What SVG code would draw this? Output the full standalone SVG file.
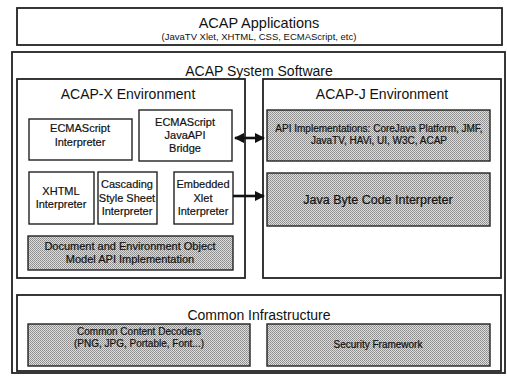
<svg xmlns="http://www.w3.org/2000/svg" width="507" height="376" viewBox="0 0 507 376">
<defs>
<pattern id="dither" width="2" height="2" patternUnits="userSpaceOnUse">
<rect width="2" height="2" fill="#dcdcdc"/>
<rect x="0" y="0" width="1" height="1" fill="#8c8c8c"/>
<rect x="1" y="1" width="1" height="1" fill="#9a9a9a"/>
</pattern>
<marker id="ah" viewBox="0 0 10 10" refX="9" refY="5" markerWidth="4" markerHeight="4" orient="auto-start-reverse" markerUnits="strokeWidth">
<path d="M0,0 L10,5 L0,10 z" fill="#111"/>
</marker>
<style>
text{font-family:"Liberation Sans",Arial,sans-serif;fill:#111;text-anchor:middle}
.frame{fill:#fff;stroke:#222;stroke-width:1.8}
.box{fill:#fff;stroke:#222;stroke-width:1.4}
.shade{fill:url(#dither);stroke:#222;stroke-width:1.4}
.t15{font-size:14.5px}
.t14{font-size:14px}
.t11{font-size:11px;stroke:#111;stroke-width:0.2}
.t10{font-size:10px;stroke:#111;stroke-width:0.2}
.t9{font-size:9.5px}
.conn{stroke:#111;stroke-width:2.6;fill:none}
</style>
</defs>
<rect width="507" height="376" fill="#fff"/>

<g id="acap-applications">
<rect class="frame" x="17" y="8" width="485" height="37"/>
<text class="t15" x="259" y="28">ACAP Applications</text>
<text class="t9" x="259" y="40">(JavaTV Xlet, XHTML, CSS, ECMAScript, etc)</text>
</g>

<g id="acap-system-software">
<rect class="frame" x="12" y="52" width="493" height="321"/>
<text class="t14" x="259" y="76">ACAP System Software</text>
</g>

<g id="acap-x-environment">
<rect class="frame" x="17" y="79" width="228" height="199"/>
<text class="t14" x="128" y="99">ACAP-X Environment</text>
</g>

<g id="acap-j-environment">
<rect class="frame" x="263" y="79" width="238" height="199"/>
<text class="t14" x="382" y="99">ACAP-J Environment</text>
</g>

<g id="ecmascript-interpreter">
<rect class="box" x="29" y="119" width="103" height="41"/>
<text class="t11" x="80" y="132">ECMAScript</text>
<text class="t11" x="80" y="146">Interpreter</text>
</g>

<g id="ecmascript-javaapi-bridge">
<rect class="box" x="139" y="110" width="93" height="51"/>
<text class="t11" x="185" y="126">ECMAScript</text>
<text class="t11" x="185" y="139">JavaAPI</text>
<text class="t11" x="185" y="152">Bridge</text>
</g>

<g id="xhtml-interpreter">
<rect class="box" x="29" y="172" width="65" height="52"/>
<text class="t11" x="61" y="195">XHTML</text>
<text class="t11" x="61" y="208">Interpreter</text>
</g>

<g id="css-interpreter">
<rect class="box" x="98" y="172" width="59" height="52"/>
<text class="t11" x="127" y="188">Cascading</text>
<text class="t11" x="127" y="202">Style Sheet</text>
<text class="t11" x="127" y="215">Interpreter</text>
</g>

<g id="embedded-xlet-interpreter">
<rect class="box" x="174" y="172" width="59" height="52"/>
<text class="t11" x="203" y="188">Embedded</text>
<text class="t11" x="203" y="202">Xlet</text>
<text class="t11" x="203" y="215">Interpreter</text>
</g>

<g id="dom-api">
<rect class="shade" x="28" y="236" width="205" height="34"/>
<text class="t11" x="130" y="250">Document and Environment Object</text>
<text class="t11" x="130" y="263">Model API Implementation</text>
</g>

<g id="api-implementations">
<rect class="shade" x="267" y="110" width="223" height="51"/>
<text class="t10" x="379" y="132">API Implementations: CoreJava Platform, JMF,</text>
<text class="t10" x="379" y="144">JavaTV, HAVi, UI, W3C, ACAP</text>
</g>

<g id="java-byte-code-interpreter">
<rect class="shade" x="267" y="173" width="223" height="53"/>
<text x="378" y="204" style="font-size:12.5px;stroke:#111;stroke-width:0.2">Java Byte Code Interpreter</text>
</g>

<g id="common-infrastructure">
<rect class="frame" x="17" y="295" width="484" height="76"/>
<text class="t14" x="259" y="320">Common Infrastructure</text>
</g>

<g id="common-content-decoders">
<rect class="shade" x="28" y="324" width="222" height="42"/>
<text class="t10" x="139" y="335">Common Content Decoders</text>
<text class="t10" x="139" y="347">(PNG, JPG, Portable, Font...)</text>
</g>

<g id="security-framework">
<rect class="shade" x="267" y="324" width="223" height="42"/>
<text class="t10" x="378" y="348">Security Framework</text>
</g>

<g id="connectors">
<line class="conn" x1="235" y1="138" x2="264" y2="138" marker-start="url(#ah)" marker-end="url(#ah)"/>
<line class="conn" x1="233" y1="196" x2="264" y2="196" marker-end="url(#ah)"/>
</g>
</svg>
